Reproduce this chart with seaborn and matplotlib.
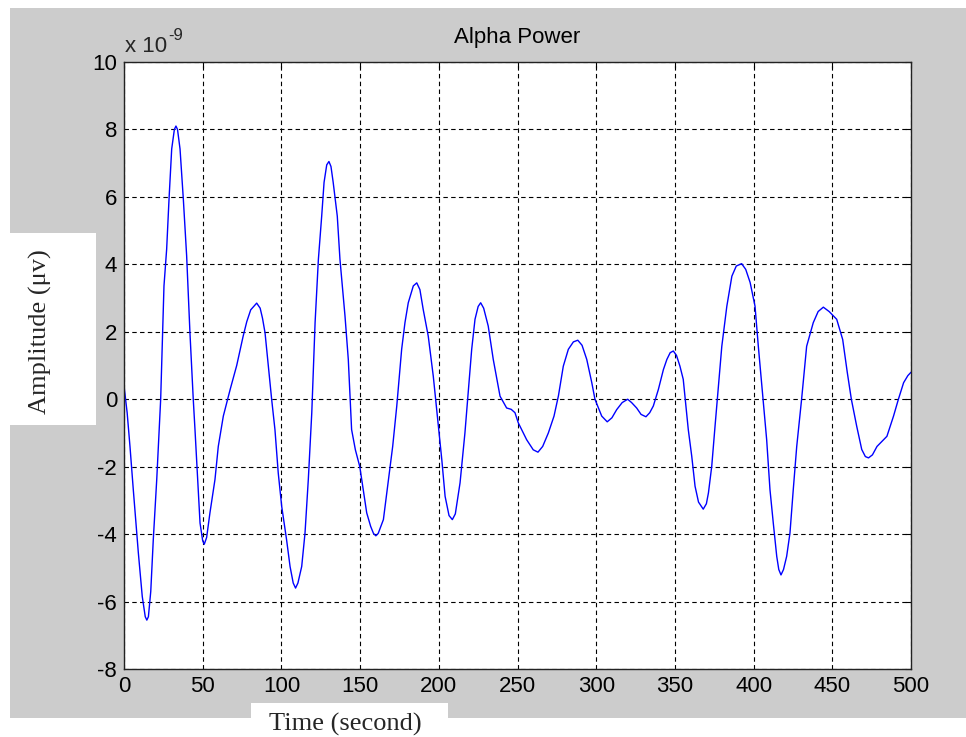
import matplotlib
matplotlib.use('Agg')
import matplotlib.pyplot as plt
import matplotlib.patches as mpatches
import seaborn as sns
import pandas as pd

# amplitude values are in units of 1e-9 (shown by the "x 10^-9" label)
time_s = [0, 2, 3.8, 5.9, 8, 9.1, 11.6, 13.5, 14.5, 15.5, 17, 18.6, 20.8, 23.3, 23.9,
          25.4, 27.1, 28.6, 30.3, 32, 33, 34, 35.6, 37.7, 39.8, 41.9, 44, 45.1, 47.2,
          48.3, 50, 51, 52.5, 54.6, 57.8, 59.9, 63.1, 66.3, 67.5, 71.6, 75.7, 78, 80.5,
          84.3, 86.5, 88, 89.6, 91.7, 93.8, 95.9, 98, 100.2, 103.3, 105.5, 107.5, 109,
          110.5, 112.9, 115, 117.1, 119.3, 121.4, 123.5, 125.6, 127.1, 128.8, 130.2,
          131.5, 132.9, 135.5, 137.2, 140.4, 142.5, 144.6, 147, 149.8, 152.9, 154.2,
          156.7, 158.5, 160, 161.5, 164.8, 168, 170.7, 173.3, 176.4, 178.5, 180.6, 183.8,
          186, 188, 190.1, 193.3, 196.5, 199.7, 201.9, 204, 206.5, 208.6, 210.5, 213.5,
          216.6, 220.9, 223, 225, 226.6, 228.5, 231.4, 234.6, 238.9, 243.1, 246, 248.4,
          250.5, 255.8, 260, 263, 266, 269.6, 273.2, 276, 279.1, 282.3, 285.5, 288.3,
          291, 294, 297.2, 299.2, 303.5, 307, 310, 313, 316.5, 320, 322.5, 325.7, 328.5,
          331.6, 334, 336.3, 339.5, 342.7, 344.9, 347, 349, 351, 353.2, 355.3, 358.5,
          360.7, 362.8, 365, 368, 370, 371.3, 373.4, 375.5, 379.8, 383, 386.2, 389,
          392.4, 395, 397.8, 400.9, 403, 408.3, 410.4, 412.5, 414.7, 416, 417.4, 419,
          421, 423.1, 425.2, 427.4, 430.5, 433.7, 437.9, 441, 444.3, 448, 452.8, 456.6,
          459.5, 462.1, 465.5, 468.7, 471, 473, 475.5, 478.4, 484.7, 488.9, 492, 495.3,
          498, 500]
amplitude = [0.4, -0.4, -1.4, -2.68, -3.9, -4.55, -5.85, -6.45, -6.55, -6.45, -5.7, -4.17,
             -2.38, 0.0, 0.98, 3.36, 4.45, 5.93, 7.42, 8.0, 8.1, 8.0, 7.42, 5.93, 4.25,
             1.97, 0.0, -0.9, -2.68, -3.67, -4.2, -4.3, -4.1, -3.37, -2.38, -1.4, -0.5,
             0.09, 0.3, 1.0, 1.87, 2.3, 2.65, 2.85, 2.7, 2.4, 1.97, 0.98, 0.0, -0.9,
             -2.19, -3.18, -4.17, -4.96, -5.45, -5.6, -5.45, -4.96, -3.97, -2.38, -0.4,
             2.27, 4.15, 5.43, 6.43, 6.95, 7.05, 6.9, 6.43, 5.43, 4.15, 2.47, 1.18,
             -0.9, -1.5, -2.0, -2.97, -3.37, -3.77, -3.98, -4.05, -3.98, -3.57, -2.38,
             -1.4, -0.2, 1.48, 2.27, 2.86, 3.36, 3.45, 3.25, 2.66, 1.87, 0.68, -0.8,
             -1.79, -2.88, -3.45, -3.57, -3.4, -2.48, -1.0, 1.48, 2.37, 2.75, 2.86, 2.7,
             2.17, 1.18, 0.09, -0.26, -0.3, -0.4, -0.7, -1.2, -1.5, -1.57, -1.4, -1.0,
             -0.5, 0.1, 0.98, 1.48, 1.7, 1.75, 1.6, 1.18, 0.49, 0.0, -0.5, -0.67, -0.55,
             -0.31, -0.1, 0.0, -0.1, -0.26, -0.45, -0.52, -0.4, -0.2, 0.29, 0.88, 1.18,
             1.38, 1.43, 1.3, 0.98, 0.59, -0.9, -1.69, -2.58, -3.05, -3.26, -3.1, -2.78,
             -1.99, -0.8, 1.57, 2.76, 3.65, 3.95, 4.02, 3.85, 3.46, 2.76, 1.57, -1.2,
             -2.68, -3.67, -4.66, -5.05, -5.21, -5.05, -4.66, -3.97, -2.68, -1.4, 0.0,
             1.57, 2.27, 2.6, 2.73, 2.6, 2.37, 1.77, 0.8, 0.0, -0.8, -1.49, -1.7, -1.74,
             -1.65, -1.4, -1.1, -0.5, 0.0, 0.49, 0.7, 0.8]

x_ticks = list(range(0, 501, 50))
y_ticks = list(range(-8, 11, 2))

df = pd.DataFrame({'Time': time_s, 'Amplitude': amplitude})

sns.set_style('white')
plt.rcParams['font.family'] = ['Liberation Sans', 'DejaVu Sans']
plt.rcParams['axes.unicode_minus'] = False

W, H = 966, 737
fig = plt.figure(figsize=(W / 100, H / 100), dpi=100, facecolor='white')

# matlab style grey figure panel plus the white patches behind the labels
fig.patches.append(mpatches.Rectangle((10 / W, 19 / H), 956 / W, 710 / H,
                                      transform=fig.transFigure, facecolor='#cccccc',
                                      edgecolor='none', zorder=-10))
fig.patches.append(mpatches.Rectangle((10 / W, 312 / H), 86 / W, 192 / H,
                                      transform=fig.transFigure, facecolor='white',
                                      edgecolor='none', zorder=-5))
fig.patches.append(mpatches.Rectangle((251 / W, 0), 197 / W, 34 / H,
                                      transform=fig.transFigure, facecolor='white',
                                      edgecolor='none', zorder=-5))

ax = fig.add_axes([124 / W, 68 / H, 787 / W, 607 / H])
ax.set_facecolor('white')

sns.lineplot(data=df, x='Time', y='Amplitude', color='#0000ff', linewidth=1.0, ax=ax)

ax.set_xlim(0, 500)
ax.set_ylim(-8, 10)
ax.set_xticks(x_ticks)
ax.set_yticks(y_ticks)
ax.grid(True, color='black', linestyle=(0, (4, 3)), linewidth=0.8)
ax.tick_params(direction='in', top=True, right=True, length=4, width=0.8,
               labelsize=16, colors='black', pad=5)
for s in ax.spines.values():
    s.set_color('#222222')
    s.set_linewidth(1.0)

ax.set_title('Alpha Power', fontsize=16, pad=14, color='black')
ax.set_xlabel('Time (second)', fontsize=19, family='Liberation Serif')
ax.xaxis.set_label_coords(0.2815, -0.0906)
ax.xaxis.label.set_va('center')
ax.set_ylabel('Amplitude (\u03bcv)', fontsize=19, family='Liberation Serif')
ax.yaxis.set_label_coords(-0.1067, 0.555)
ax.yaxis.label.set_va('center')

fig.text(125 / W, 1 - 52 / H, 'x 10', fontsize=16, va='baseline', ha='left')
fig.text(168 / W, 1 - 40 / H, '-9', fontsize=12, va='baseline', ha='left')

plt.savefig('out.png', dpi=100, facecolor='white')
